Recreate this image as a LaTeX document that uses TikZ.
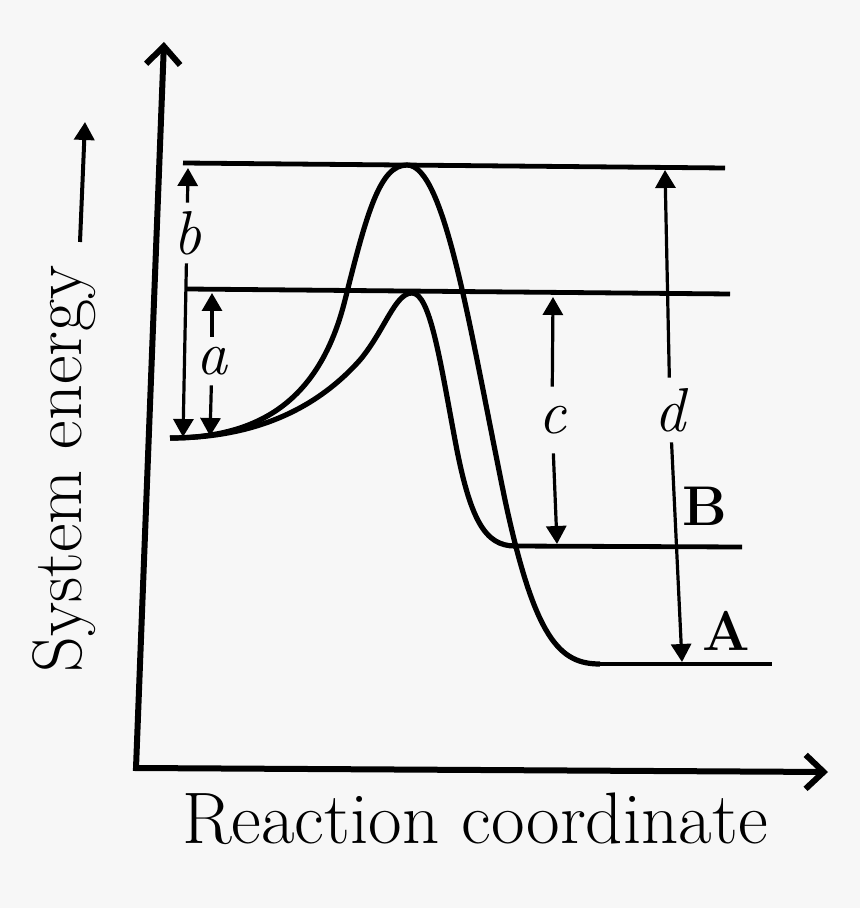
\documentclass[tikz,border=0pt]{standalone}
\usepackage{fontspec}
\usepackage{xcolor}
\usepackage{tikz}
\usetikzlibrary{arrows.meta}
\usetikzlibrary{calc,positioning}

\definecolor{paper}{RGB}{247,247,247}

\tikzset{
    axis/.style={line width=3pt, line join=miter, {Straight Barb[length=9pt,width=17pt]}-{Straight Barb[length=9pt,width=17pt]}},
    level/.style={line width=2.4pt},
    curve/.style={line width=2.6pt},
    dim/.style={line width=1.6pt, -{Triangle[length=9pt,width=10pt]}},
    dimlabel/.style={inner sep=0pt, minimum width=10pt, font=\fontsize{31}{37}\selectfont\itshape},
    big/.style={inner sep=0pt, font=\fontsize{36.5}{44}\selectfont},
    tag/.style={inner sep=0pt, anchor=base, font=\fontsize{28}{34}\selectfont\bfseries},
}

\begin{document}
\begin{tikzpicture}[x=0.5pt, y=-0.5pt]

    \fill[paper] (0,0) rectangle (860,908);
    \useasboundingbox (0,0) rectangle (860,908);

    % Axes
    \coordinate (ytip) at (164,42);
    \coordinate (O) at (136,768);
    \coordinate (xtip) at (828,772);
    \draw[axis] (ytip) -- (O) -- (xtip);

    \node[big, anchor=base] (xlabel) at (475,843) {Reaction coordinate};
    \node[big, font=\fontsize{35}{42}\selectfont, rotate=90, anchor=base] (ylabel) at (81,469) {System energy};
    \coordinate (e0) at (80,242);
    \coordinate (e1) at (85,122);
    \draw[dim, line width=2pt] (e0) -- (e1);

    % Levels
    \coordinate (T0) at (183,163);
    \coordinate (T1) at (725,168);
    \coordinate (M0) at (187,289);
    \coordinate (M1) at (730,294);
    \coordinate (B0) at (513,546);
    \coordinate (B1) at (742,547);
    \coordinate (A0) at (595,664);
    \coordinate (A1) at (772,664);
    \draw[level] (T0) -- (T1);
    \draw[level] (M0) -- (M1);
    \draw[level] (B0) -- (B1);
    \draw[level] (A0) -- (A1);

    % Curves
    \draw[curve] (170,438) .. controls (260,438) and (320,400) .. (345,300)
        .. controls (367,212) and (380,165) .. (407,165)
        .. controls (445,165) and (470,330) .. (505,500)
        .. controls (535,640) and (560,664) .. (600,664);
    \draw[curve] (170,438) .. controls (260,438) and (320,405) .. (360,360)
        .. controls (385,330) and (395,293) .. (412,293)
        .. controls (430,293) and (440,360) .. (455,440)
        .. controls (470,520) and (485,546) .. (515,546);

    % Dimensions
    \node[dimlabel, minimum height=30pt] (b) at (187,233) {b};
    \node[dimlabel, minimum height=24pt] (a) at (212,361) {a};
    \node[dimlabel, minimum height=33pt] (c) at (552,420) {c};
    \node[dimlabel, minimum height=32pt] (d) at (670,410) {d};

    \coordinate (btop) at (188,168);
    \coordinate (bbot) at (183,437);
    \coordinate (atop) at (212,293);
    \coordinate (abot) at (210,436);
    \coordinate (ctop) at (553,297);
    \coordinate (cbot) at (557,544);
    \coordinate (dtop) at (665,170);
    \coordinate (dbot) at (682,662);

    \draw[dim] (b) -- (btop);
    \draw[dim] (b) -- (bbot);
    \draw[dim] (a) -- (atop);
    \draw[dim] (a) -- (abot);
    \draw[dim] (c) -- (ctop);
    \draw[dim] (c) -- (cbot);
    \draw[dim] (d) -- (dtop);
    \draw[dim] (d) -- (dbot);

    \node[tag] (lB) at (705,525) {B};
    \node[tag] (lA) at (726,650) {A};

\end{tikzpicture}
\end{document}
